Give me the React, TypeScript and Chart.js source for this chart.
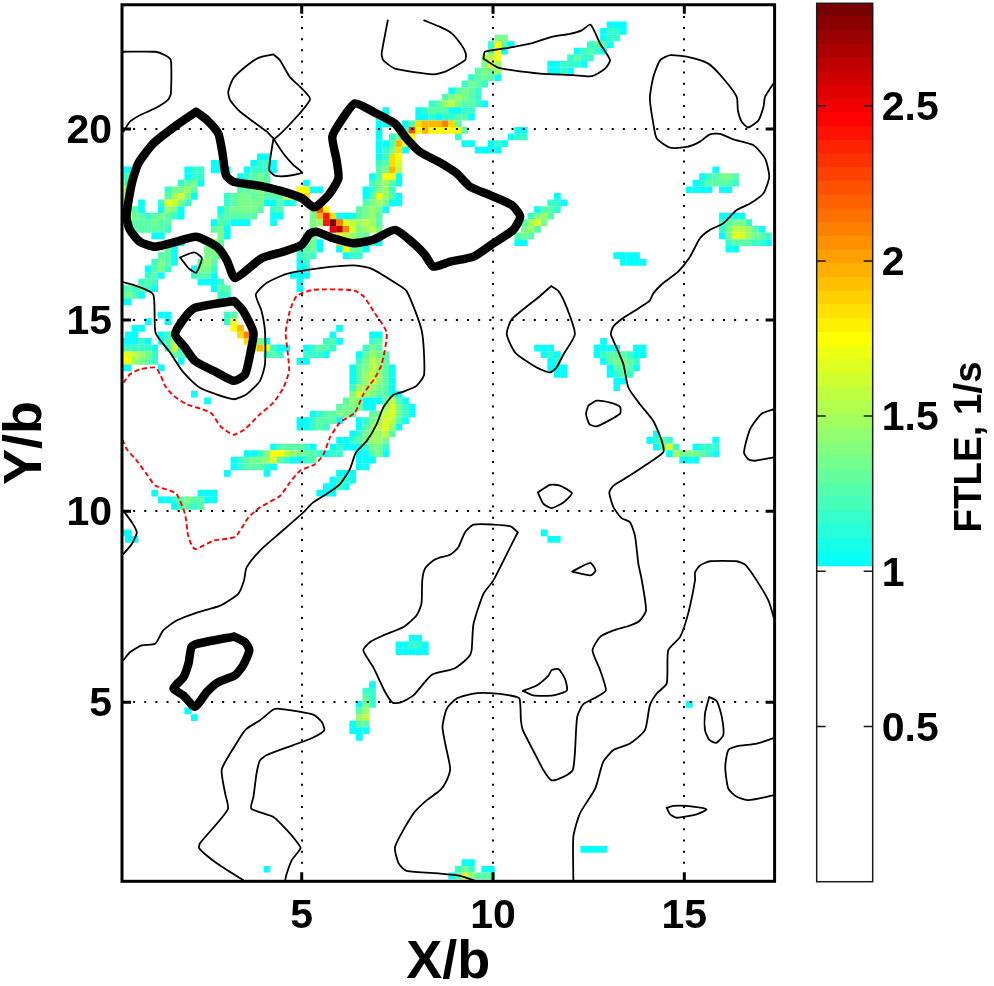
import React, { useEffect, useRef } from "react";
import { Chart, registerables } from "chart.js";

Chart.register(...registerables);

const FONT = "'Liberation Sans', Arial, sans-serif";
const xTicks = [5, 10, 15];
const yTicks = [5, 10, 15, 20];
const barTicks = [0.5, 1, 1.5, 2, 2.5];
const xRange = [0.303, 17.36];
const yRange = [0.317, 23.25];
const barRange = [0, 2.83];

// FTLE grid: column i -> x, row k -> y
const gridX0 = 0.468;
const gridDX = 0.1725;
const gridY0 = 22.725;
const gridDY = 0.1726;
const levelCodes = "abcdefghijklmnop";
const levelValues = [1.03, 1.17, 1.27, 1.36, 1.46, 1.56, 1.65, 1.75, 1.85, 1.95, 2.1, 2.25, 2.4, 2.5, 2.65, 2.8];

// [row k, first column i, level codes]
const ftleRuns: [number, number, string][] = [
  [0, 73, "aaa"], [1, 72, "abba"], [2, 56, "dd"], [2, 72, "abb"],
  [3, 55, "bhca"], [3, 70, "bcca"], [4, 55, "cha"], [4, 68, "abcba"],
  [5, 54, "efh"], [5, 67, "bcbb"], [6, 54, "dhe"], [6, 64, "aabbba"],
  [7, 53, "cdde"], [7, 64, "aaba"], [8, 52, "bcdca"], [9, 51, "bdcb"],
  [10, 49, "acdcb"], [11, 48, "cdedcb"], [12, 46, "bce"], [12, 48, "efdccba"],
  [13, 39, "a"], [13, 44, "abccc"], [13, 48, "caabb"], [14, 38, "aa"], [14, 44, "aababa"], [14, 49, "bcca"],
  [15, 38, "aaa"], [15, 42, "acijjjkic"], [16, 38, "a"], [16, 42, "blhjhhhhhc"], [16, 59, "aa"],
  [17, 38, "a"], [17, 40, "bdgh"], [17, 50, "b"], [17, 58, "abb"],
  [18, 38, "aacjha"], [18, 51, "aa"], [18, 55, "aba"],
  [19, 38, "abdia"], [19, 53, "aaaa"],
  [20, 38, "abih"], [21, 38, "bcig"], [22, 38, "cdjf"], [23, 37, "achha"], [24, 37, "bdeca"],
  [25, 36, "abdeb"], [26, 36, "acheca"], [27, 36, "cdeda"], [27, 40, "aa"],
  [28, 29, "lh"], [28, 35, "cdeda"], [29, 28, "djmi"], [29, 32, "aaacdec"],
  [30, 28, "demjkgfefec"], [30, 31, "pk"], [31, 28, "d"], [31, 31, "nokgdefd"], [32, 32, "gfedc"],
  [33, 32, "ihedcca"], [34, 32, "ahdca"], [35, 33, "abb"],
  // centre-left patch and streak
  [20, 20, "aa"], [21, 13, "aa"], [21, 19, "abba"], [22, 13, "aaa"], [22, 18, "abbba"],
  [23, 17, "abcdc"], [24, 17, "bccdc"], [24, 27, "a"], [25, 17, "ccdddcc"], [25, 26, "hhaa"],
  [26, 15, "bcddcdcc"], [26, 23, "chhei"], [27, 15, "bcdddd"], [27, 21, "aacab"],
  [28, 14, "acdddd"], [28, 20, "c"], [28, 22, "bc"], [28, 28, "d"],
  [29, 14, "bcccc"], [29, 19, "c"], [29, 22, "aa"], [30, 13, "acbaaa"], [30, 22, "a"],
  [31, 13, "cda"], [32, 14, "da"], [33, 13, "ec"], [34, 12, "ddb"], [35, 12, "ddc"],
  [36, 11, "cec"], [37, 10, "addb"], [38, 10, "bcca"], [39, 11, "aaab"], [40, 13, "acc"], [41, 14, "bb"],
  [32, 27, "cd"], [33, 27, "cda"], [34, 26, "acda"], [35, 26, "bcb"], [36, 26, "ab"], [37, 26, "aa"],
  [38, 25, "aaa"], [39, 26, "a"], [40, 26, "a"],
  // upper-left patch
  [22, 9, "abb"], [22, -1, "aa"], [23, 9, "abb"], [23, -1, "bb"], [24, 8, "bcda"], [24, -1, "ea"],
  [25, 6, "bddec"], [25, -1, "fc"], [26, 6, "cegda"], [26, -1, "fc"], [27, 5, "bggdb"], [27, -1, "fd"], [27, 2, "a"],
  [28, 5, "aeda"], [28, -1, "fdca"], [29, 3, "bcdcba"], [29, 0, "gdc"], [30, 1, "cccdcc"], [31, 1, "cccccb"], [32, 4, "aa"],
  [33, 7, "aa"], [34, 6, "ca"], [35, 5, "cca"], [36, 4, "bdca"], [37, 3, "acdb"], [38, 3, "bca"],
  [39, 2, "bcb"], [40, -1, "bcbcba"], [41, -1, "cdca"], [42, -1, "aa"],
  // around the ring
  [44, 5, "aa"], [45, 3, "a"], [45, 6, "a"], [46, 1, "aa"], [47, 0, "aa"], [47, 5, "abc"],
  [48, -1, "aaaba"], [48, 5, "ace"], [49, -1, "bbbbba"], [49, 6, "bgb"], [50, -1, "hgfedb"], [50, 7, "cca"],
  [51, -1, "hhedcb"], [51, 8, "a"], [52, -1, "aa"], [52, 5, "a"], [56, 10, "a"], [57, 12, "a"],
  [44, 15, "bc"], [45, 15, "bh"], [46, 16, "hj"], [47, 17, "ik"], [48, 18, "i"], [48, 20, "da"],
  [49, 19, "gjhbaa"], [50, 21, "bcb"],
  // centre patches
  [46, 32, "a"], [47, 31, "a"], [47, 37, "aa"], [48, 30, "bca"], [48, 37, "bc"],
  [49, 27, "abccb"], [49, 36, "bdc"], [50, 27, "bbba"], [50, 35, "acedc"], [51, 26, "aa"], [51, 35, "bdfec"],
  [52, 34, "acdfeca"], [53, 34, "acefeca"], [54, 34, "acegeca"], [55, 34, "beeedca"], [56, 34, "dgedccaa"],
  [57, 33, "cedaaacfca"], [58, 32, "cdddaa"], [58, 39, "egdba"], [59, 28, "abccddc"], [59, 37, "cdfgdba"],
  [60, 26, "aabccca"], [60, 35, "abdegfca"], [61, 26, "aabcb"], [61, 35, "acefgea"], [62, 34, "abdeefc"],
  [63, 32, "aabcdeed"], [64, 22, "accccba"], [64, 31, "abaaabddb"], [65, 18, "aabdhhfedccbabb"], [65, 35, "aacda"],
  [66, 16, "abcddegcbaabc"], [66, 35, "aaa"], [67, 16, "abcccba"], [67, 35, "aa"],
  [68, 15, "a"], [68, 21, "a"], [68, 32, "aaa"], [69, 31, "abba"], [70, 30, "aaba"], [71, 29, "aaa"],
  [71, 4, "a"], [71, 11, "aaa"], [72, 5, "aabcdccaa"], [73, 7, "accbc"], [77, -1, "aa"], [78, 0, "aa"],
  // upper-right patches
  [22, 89, "a"], [23, 87, "abcddc"], [24, 86, "abccccb"], [25, 85, "aaaa"], [25, 90, "aa"],
  [26, 65, "a"], [27, 64, "bba"], [28, 62, "accb"], [29, 61, "bdec"], [30, 60, "cegd"], [31, 60, "dec"],
  [32, 59, "cdc"], [33, 59, "aa"], [35, 74, "aaaa"], [36, 75, "aaaa"],
  [29, 90, "aaaa"], [30, 90, "bcddb"], [31, 90, "bdffeca"], [32, 90, "adggedcb"], [33, 91, "bcccbba"], [34, 91, "aa"],
  // mid-right patches
  [48, 72, "a"], [49, 62, "aaa"], [49, 71, "aaaa"], [49, 77, "aa"], [50, 63, "aba"], [50, 71, "abcccbaa"],
  [51, 64, "ab"], [51, 72, "acddcb"], [52, 64, "aaa"], [52, 73, "accca"], [53, 65, "aa"], [53, 73, "abcb"],
  [54, 74, "aa"], [55, 74, "a"],
  [62, 80, "a"], [63, 79, "abcb"], [63, 89, "a"], [64, 80, "acgb"], [64, 86, "abbb"], [65, 82, "aedddcba"],
  [66, 84, "aaa"], [77, 63, "a"], [78, 64, "aa"],
  // lower patches
  [93, 43, "aa"], [94, 41, "aabba"], [95, 41, "aaaaa"], [104, 9, "a"], [105, 10, "a"],
  [100, 37, "a"], [101, 36, "bb"], [102, 36, "cb"], [103, 35, "adb"], [104, 35, "ce"], [105, 35, "ef"],
  [106, 34, "acc"], [107, 34, "aaa"], [108, 35, "a"], [103, 85, "a"], [125, 69, "aaaa"], [128, 21, "a"],
  [127, 51, "aa"], [128, 50, "bdb"], [128, 54, "aa"], [129, 49, "acgecc"], [129, 55, "c"],
];

const thickContourA = [
  [2.24, 20.45], [2.53, 20.23], [2.82, 19.88], [2.93, 19.36], [3.02, 18.79], [3.21, 18.62], [3.91, 18.51], [4.52, 18.36], [5.0, 18.19], [5.33, 17.95],
  [5.7, 18.27], [5.96, 18.71], [5.91, 19.19], [5.8, 19.8], [6.04, 20.23], [6.39, 20.67], [6.87, 20.45], [7.44, 20.14], [7.74, 19.75], [8.09, 19.4],
  [8.62, 19.12], [9.05, 18.84], [9.4, 18.49], [9.92, 18.27], [10.49, 18.01], [10.71, 17.71], [10.53, 17.36], [10.01, 17.01], [9.49, 16.66], [8.88, 16.53],
  [8.44, 16.4], [8.22, 16.71], [7.92, 17.01], [7.44, 17.36], [6.87, 17.1], [6.35, 17.01], [5.83, 17.14], [5.39, 17.31], [5.22, 17.27], [5.0, 16.97],
  [4.52, 16.79], [3.95, 16.62], [3.26, 16.1], [3.04, 16.57], [2.78, 16.92], [2.24, 17.18], [1.73, 17.05], [1.17, 16.92], [0.77, 17.05], [0.51, 17.36],
  [0.42, 17.71], [0.56, 18.58], [0.73, 19.1], [1.12, 19.62], [1.73, 20.1], [2.24, 20.45],
];
const thickContourB = [
  [3.23, 15.5], [3.47, 15.24], [3.74, 14.67], [3.65, 14.1], [3.52, 13.58], [3.23, 13.41], [2.78, 13.63], [2.21, 13.93], [1.95, 14.28], [1.69, 14.63], [1.91, 15.02], [2.21, 15.32], [3.23, 15.5],
];
const thickContourC = [
  [3.23, 6.72], [3.52, 6.57], [3.63, 6.36], [3.47, 5.97], [3.26, 5.71], [2.82, 5.53], [2.52, 5.27], [2.21, 4.88], [1.91, 5.18], [1.65, 5.36], [1.91, 5.66], [2.04, 6.01], [2.12, 6.45], [2.26, 6.53], [3.23, 6.72],
];
const redContour = [
  [0.34, 13.36], [0.51, 13.58], [0.77, 13.71], [1.17, 13.76], [1.3, 13.58], [1.43, 13.28], [1.65, 13.02], [1.99, 12.8], [2.39, 12.67], [2.65, 12.55],
  [2.87, 12.23], [3.21, 12.0], [3.52, 12.15], [3.91, 12.54], [4.26, 12.84], [4.52, 13.23], [4.67, 13.67], [4.63, 14.19], [4.58, 14.67], [4.69, 15.24],
  [4.87, 15.63], [5.3, 15.79], [6.35, 15.78], [6.61, 15.63], [6.87, 15.24], [7.22, 14.67], [7.09, 13.84], [6.92, 13.5], [6.61, 13.06], [6.39, 12.58],
  [6.0, 12.32], [5.74, 11.93], [5.57, 11.49], [5.35, 11.23], [4.96, 11.06], [4.69, 10.75], [4.43, 10.4], [3.91, 10.1], [3.61, 9.84], [3.26, 9.33],
  [2.69, 9.23], [2.21, 9.01], [2.04, 9.32], [1.95, 9.93], [1.73, 10.45], [1.56, 10.54], [1.17, 10.67], [0.95, 10.97], [0.69, 11.32], [0.43, 11.62], [0.32, 11.86],
];
const thinContours: number[][][] = [
  [[0.34, 22.02], [1.17, 22.02], [1.43, 21.93], [1.58, 21.8], [1.58, 20.93], [1.51, 20.77], [1.17, 20.54], [0.77, 20.36], [0.51, 20.19], [0.34, 19.93]],
  [[4.26, 21.95], [4.43, 21.8], [4.69, 21.36], [4.96, 21.1], [5.22, 20.77], [4.3, 19.75], [4.09, 19.93], [3.39, 20.45], [3.13, 20.75], [3.08, 20.97], [3.21, 21.32], [3.52, 21.62], [3.87, 21.86], [4.26, 21.95]],
  [[4.26, 19.75], [4.15, 18.93], [4.3, 18.78], [4.61, 18.77], [5.0, 18.86], [4.78, 19.06], [4.52, 19.36], [4.26, 19.75]],
  [[7.25, 22.84], [7.09, 21.97], [7.13, 21.8], [7.44, 21.58], [8.44, 21.43], [8.75, 21.5], [9.27, 21.8], [9.29, 21.97], [9.18, 22.19], [8.92, 22.5], [8.62, 22.67], [8.2, 22.84]],
  [[9.75, 21.84], [9.79, 22.02], [10.44, 22.13], [10.97, 22.23], [11.53, 22.41], [12.01, 22.49], [12.32, 22.58], [12.55, 22.73], [12.8, 22.23], [13.06, 21.8], [12.93, 21.58], [12.58, 21.38], [12.1, 21.41], [11.23, 21.45], [10.49, 21.54], [10.1, 21.62], [9.75, 21.84]],
  [[17.33, 21.19], [17.11, 20.84], [17.07, 20.58], [16.94, 20.23], [16.67, 20.04], [16.5, 20.19], [16.4, 20.49], [16.37, 20.84], [16.02, 21.32], [15.63, 21.71], [15.06, 21.89], [14.63, 21.93], [14.37, 21.8], [14.19, 21.36], [14.1, 20.8], [14.19, 20.14], [14.28, 19.75], [14.63, 19.51], [15.06, 19.53], [15.41, 19.67], [15.67, 19.86], [15.93, 19.87], [16.28, 19.73], [16.8, 19.58], [17.11, 19.23], [17.22, 18.75], [17.07, 18.32], [16.72, 18.05], [16.37, 17.88], [16.02, 17.53], [15.67, 17.36], [15.41, 17.14], [15.15, 16.66], [14.84, 16.27], [14.45, 15.97], [14.19, 15.7], [14.09, 15.5], [13.76, 15.28], [13.41, 15.06], [13.15, 14.84], [13.08, 14.63], [13.23, 14.28], [13.41, 13.84], [13.54, 13.23], [13.84, 12.8], [14.19, 12.36], [14.41, 11.84], [14.45, 11.54], [14.02, 11.23], [13.49, 10.88], [13.15, 10.67], [13.04, 10.49], [13.15, 10.1], [13.36, 9.82], [13.58, 9.71], [13.71, 9.36], [13.8, 8.62], [13.89, 8.19], [14.0, 7.4], [13.84, 7.14], [13.58, 7.01], [13.15, 6.88], [12.8, 6.71], [12.6, 6.36], [12.8, 5.84], [12.95, 5.31], [12.71, 5.14], [12.36, 4.95], [12.2, 4.62], [12.14, 3.66], [12.08, 3.22], [11.84, 3.05], [11.53, 2.96], [11.32, 3.22], [11.05, 3.74], [10.78, 4.27], [10.73, 4.53], [10.69, 5.1], [10.44, 5.18], [9.92, 5.24], [9.49, 5.23], [9.05, 5.1], [8.79, 4.83], [8.68, 4.35], [8.77, 3.83], [8.88, 3.27], [8.79, 2.96], [8.62, 2.7], [8.27, 2.44], [7.92, 2.09], [7.44, 1.22], [7.53, 0.79], [7.74, 0.59], [8.62, 0.52], [9.14, 0.46], [9.57, 0.32]],
  [[11.52, 15.89], [11.71, 15.76], [11.93, 15.32], [12.14, 14.63], [11.84, 14.1], [11.66, 13.76], [11.49, 13.63], [11.14, 13.76], [10.58, 14.15], [10.36, 14.63], [10.49, 15.02], [11.23, 15.63], [11.52, 15.89]],
  [[1.82, 16.64], [2.19, 16.77], [2.39, 16.62], [2.24, 16.24], [2.04, 16.36], [1.82, 16.64]],
  [[0.34, 15.99], [0.69, 15.89], [1.12, 15.67], [1.18, 14.67], [1.56, 14.15], [1.91, 13.63], [2.34, 13.23], [3.21, 12.93], [3.56, 13.06], [3.91, 13.41], [4.04, 13.84], [4.04, 14.71], [3.95, 15.24], [3.8, 15.67], [4.08, 15.97], [4.61, 16.21], [5.48, 16.36], [6.35, 16.43], [6.79, 16.36], [7.39, 16.01], [7.74, 15.76], [8.14, 14.71], [8.2, 13.58], [8.0, 13.28], [7.66, 13.13], [7.39, 13.04], [7.13, 12.71], [6.96, 12.28], [6.7, 11.84], [6.42, 11.54], [6.26, 11.1], [6.0, 10.71], [5.65, 10.45], [5.3, 10.23], [5.0, 9.93], [4.35, 9.36], [3.91, 8.97], [3.56, 8.53], [3.49, 8.18], [3.34, 7.84], [2.87, 7.53], [2.3, 7.36], [1.73, 7.14], [1.38, 6.88], [1.17, 6.53], [0.82, 6.49], [0.51, 6.31], [0.34, 6.1]],
  [[0.34, 10.01], [0.56, 9.71], [0.69, 9.45], [0.56, 9.14], [0.34, 8.88]],
  [[10.65, 9.45], [10.46, 9.6], [10.01, 9.65], [9.49, 9.65], [9.27, 9.45], [9.09, 9.05], [8.88, 8.86], [8.62, 8.79], [8.44, 8.71], [8.22, 8.49], [8.15, 8.18], [8.13, 7.58], [8.0, 7.27], [7.66, 6.97], [7.13, 6.75], [6.79, 6.58], [6.61, 6.36], [6.87, 5.92], [7.18, 5.27], [7.38, 4.99], [7.57, 4.99], [7.92, 5.18], [8.4, 5.72], [8.88, 5.85], [9.05, 5.92], [9.36, 6.18], [9.44, 6.36], [9.49, 7.05], [9.75, 7.84], [10.01, 8.19], [10.49, 9.14], [10.65, 9.45]],
  [[12.49, 12.76], [12.71, 12.89], [13.06, 12.84], [13.32, 12.73], [13.32, 12.55], [12.71, 12.22], [12.52, 12.28], [12.43, 12.55], [12.49, 12.76]],
  [[11.17, 10.49], [11.49, 10.69], [11.75, 10.67], [12.06, 10.47], [11.84, 10.23], [11.53, 10.08], [11.32, 10.19], [11.17, 10.49]],
  [[12.07, 8.42], [12.54, 8.65], [12.68, 8.45], [12.55, 8.32], [12.07, 8.42]],
  [[10.78, 5.3], [11.14, 5.44], [11.45, 5.7], [11.53, 5.84], [11.71, 5.87], [11.88, 5.62], [11.93, 5.31], [11.58, 5.18], [11.05, 5.18], [10.78, 5.3]],
  [[17.35, 7.18], [17.2, 7.66], [16.89, 8.19], [16.59, 8.6], [16.37, 8.69], [15.67, 8.69], [15.41, 8.58], [15.28, 8.4], [15.28, 8.19], [15.1, 7.32], [14.89, 6.71], [14.58, 6.36], [14.54, 5.49], [14.28, 5.23], [14.1, 4.92], [13.97, 4.27], [13.58, 3.92], [13.15, 3.75], [12.88, 3.44], [12.67, 2.74], [12.27, 2.09], [12.1, 1.48], [12.1, 0.35]],
  [[17.35, 12.67], [17.02, 12.55], [16.72, 12.15], [16.56, 11.54], [16.67, 11.36], [16.85, 11.32], [17.35, 11.41]],
  [[15.65, 5.14], [15.85, 5.03], [15.98, 4.62], [16.02, 4.14], [15.83, 3.94], [15.65, 4.02], [15.54, 4.27], [15.54, 4.7], [15.65, 5.14]],
  [[17.35, 4.07], [16.89, 3.92], [16.37, 3.85], [16.15, 3.75], [16.07, 3.31], [16.15, 2.74], [16.37, 2.53], [16.67, 2.44], [17.35, 2.57]],
  [[14.54, 2.24], [14.71, 2.29], [15.06, 2.29], [15.58, 2.2], [15.32, 2.07], [14.8, 1.98], [14.63, 2.07], [14.54, 2.24]],
  [[3.47, 0.35], [2.78, 0.79], [2.32, 1.18], [2.34, 1.31], [3.07, 2.2], [3.0, 2.61], [2.91, 3.24], [3.26, 3.87], [3.54, 4.29], [3.91, 4.53], [4.26, 4.81], [4.43, 4.83], [5.3, 4.68], [5.52, 4.49], [5.59, 4.27], [5.3, 4.08], [4.78, 3.88], [4.09, 3.62], [3.91, 3.48], [3.82, 3.14], [3.74, 2.53], [3.68, 2.22], [4.26, 2.0], [4.61, 1.66], [4.87, 1.35], [4.97, 1.18], [4.74, 0.87], [4.61, 0.52], [4.56, 0.31]],
];

// Lower edge of each coloured band of the colour bar
const barBands = [
  1.017, 1.061, 1.105, 1.15, 1.194, 1.238, 1.282, 1.326, 1.371, 1.415, 1.459, 1.503, 1.547, 1.592, 1.636, 1.68, 1.724, 1.768, 1.813, 1.857, 1.901,
  1.945, 1.989, 2.034, 2.078, 2.122, 2.166, 2.21, 2.255, 2.299, 2.343, 2.387, 2.431, 2.476, 2.52, 2.564, 2.608, 2.652, 2.697, 2.741, 2.785, 2.83,
];
const colorStops = [
  [1.02, 0, 255, 255], [1.385, 128, 255, 128], [1.75, 255, 255, 0], [2.1, 255, 128, 0], [2.46, 255, 0, 0], [2.83, 112, 0, 0],
];

function colorOf(v: number): string {
  for (let s = 1; s < colorStops.length; s++) {
    if (v <= colorStops[s][0]) {
      const a = colorStops[s - 1];
      const b = colorStops[s];
      const t = Math.max(0, (v - a[0]) / (b[0] - a[0]));
      const m = (n: number) => Math.round(a[n] + (b[n] - a[n]) * t);
      return `rgb(${m(1)},${m(2)},${m(3)})`;
    }
  }
  return "rgb(112,0,0)";
}

const toXY = (pts: number[][]) => pts.map(([x, y]) => ({ x, y }));

function buildCells() {
  const pts: { x: number; y: number }[] = [];
  const colors: string[] = [];
  ftleRuns.forEach(([k, i0, codes]) => {
    [...codes].forEach((c, n) => {
      const idx = levelCodes.indexOf(c);
      if (idx < 0) return;
      pts.push({ x: gridX0 + gridDX * (i0 + n), y: gridY0 - gridDY * k });
      colors.push(colorOf(levelValues[idx]));
    });
  });
  return { pts, colors };
}

const framePlugin = {
  id: "frame",
  afterDraw(chart: any) {
    const { ctx, chartArea: a, scales } = chart;
    const o = chart.options.plugins.frame;
    ctx.save();
    ctx.strokeStyle = o.color;
    ctx.lineCap = "butt";
    ctx.lineWidth = o.tickWidth;
    ctx.beginPath();
    (o.xTicks || []).forEach((v: number) => {
      const p = scales.x.getPixelForValue(v);
      ctx.moveTo(p, a.top); ctx.lineTo(p, a.top + o.tickLen);
      ctx.moveTo(p, a.bottom); ctx.lineTo(p, a.bottom - o.tickLen);
    });
    (o.yTicks || []).forEach((v: number) => {
      const p = scales.y.getPixelForValue(v);
      ctx.moveTo(a.left, p); ctx.lineTo(a.left + o.tickLen, p);
      ctx.moveTo(a.right, p); ctx.lineTo(a.right - o.tickLen, p);
    });
    ctx.stroke();
    ctx.lineWidth = o.width;
    ctx.strokeRect(a.left, a.top, a.right - a.left, a.bottom - a.top);
    if (o.sideTitle) {
      ctx.translate(o.sideTitle.x, o.sideTitle.y);
      ctx.rotate(-Math.PI / 2);
      ctx.fillStyle = "#000";
      ctx.font = o.sideTitle.font;
      ctx.textAlign = "center";
      ctx.textBaseline = "middle";
      ctx.fillText(o.sideTitle.text, 0, 0);
    }
    ctx.restore();
  },
};

const tickFont = { family: FONT, size: 41, weight: "bold" as const };
const noPad = (s: any) => {
  s.paddingTop = 0;
  s.paddingBottom = 0;
  s.paddingLeft = 0;
  s.paddingRight = 0;
};

export default function App() {
  const mainRef = useRef<HTMLCanvasElement>(null);
  const barRef = useRef<HTMLCanvasElement>(null);

  useEffect(() => {
    const { pts, colors } = buildCells();
    const line = (pts: number[][], color: string, width: number, dash: number[] = []) => ({
      type: "scatter" as const,
      data: toXY(pts),
      showLine: true,
      borderColor: color,
      borderWidth: width,
      borderDash: dash,
      pointRadius: 0,
      tension: 0.2,
      borderJoinStyle: "round" as const,
      borderCapStyle: dash.length ? ("butt" as const) : ("round" as const),
      order: 1,
    });
    const main = new Chart(mainRef.current!, {
      type: "scatter",
      data: {
        datasets: [
          ...thinContours.map((c) => line(c, "#000", 1.8)),
          line(redContour, "#ff0000", 1.9, [5, 3]),
          line(thickContourA, "#000", 8.5),
          line(thickContourB, "#000", 8.5),
          line(thickContourC, "#000", 8.5),
          {
            data: pts,
            showLine: false,
            pointStyle: "rect",
            pointRadius: 4.75,
            pointBorderWidth: 0,
            pointBackgroundColor: colors,
            order: 10,
          },
        ] as any,
      },
      options: {
        responsive: false,
        animation: false,
        events: [],
        layout: { padding: { left: 0, right: 5.4, top: 3.2, bottom: 0 } },
        plugins: {
          legend: { display: false },
          tooltip: { enabled: false },
          frame: { color: "#000", width: 3, tickWidth: 3, tickLen: 9, xTicks, yTicks },
        } as any,
        scales: {
          x: {
            type: "linear",
            min: xRange[0],
            max: xRange[1],
            afterBuildTicks: (s: any) => { s.ticks = xTicks.map((value) => ({ value })); },
            afterFit: (s: any) => { s.height = 986 - 881.3; noPad(s); },
            ticks: { font: tickFont, color: "#000", padding: 11, maxRotation: 0, callback: (v: any) => String(v) },
            grid: { color: "#000", lineWidth: 2, drawTicks: false, z: 1 },
            border: { display: false, dash: [2, 9.13] },
            title: { display: true, text: "X/b", color: "#000", font: { family: FONT, size: 54, weight: "bold", lineHeight: 0.83 }, padding: 0 },
          },
          y: {
            type: "linear",
            min: yRange[0],
            max: yRange[1],
            afterBuildTicks: (s: any) => { s.ticks = yTicks.map((value) => ({ value })); },
            afterFit: (s: any) => { s.width = 122; noPad(s); },
            ticks: { font: tickFont, color: "#000", padding: 10, labelOffset: 2.5, callback: (v: any) => String(v) },
            grid: { color: "#000", lineWidth: 2, drawTicks: false, z: 1 },
            border: { display: false, dash: [2, 9.13] },
            title: { display: true, text: "Y/b", color: "#000", font: { family: FONT, size: 54, weight: "bold", lineHeight: 0.83 }, padding: { top: 4, bottom: 0 } },
          },
        },
      } as any,
      plugins: [framePlugin],
    });

    const bar = new Chart(barRef.current!, {
      type: "bar",
      data: {
        labels: ["FTLE"],
        datasets: barBands.slice(0, -1).map((lo, n) => ({
          data: [[lo, barBands[n + 1] + (n < barBands.length - 2 ? 0.002 : 0)]],
          backgroundColor: colorOf((lo + barBands[n + 1]) / 2),
          borderWidth: 0,
          barPercentage: 1,
          categoryPercentage: 1,
          grouped: false,
        })) as any,
      },
      options: {
        responsive: false,
        animation: false,
        events: [],
        layout: { padding: { left: 36.7, right: 0, top: 3.3, bottom: 986 - 881.7 } },
        plugins: {
          legend: { display: false },
          tooltip: { enabled: false },
          frame: {
            color: "#1a1a1a", width: 1.5, tickWidth: 1.5, tickLen: 9, yTicks: barTicks,
            sideTitle: { text: "FTLE, 1/s", x: 190, y: 447, font: `bold 38.5px ${FONT}` },
          },
        } as any,
        scales: {
          x: { type: "category", display: false },
          y: {
            type: "linear",
            position: "right",
            min: barRange[0],
            max: barRange[1],
            afterBuildTicks: (s: any) => { s.ticks = barTicks.map((value) => ({ value })); },
            afterFit: (s: any) => { s.width = 214 - 92.7; noPad(s); },
            ticks: { font: tickFont, color: "#000", padding: 9, labelOffset: 3, callback: (v: any) => String(v) },
            grid: { display: false, drawTicks: false },
            border: { display: false },
          },
        },
      } as any,
      plugins: [framePlugin],
    });

    return () => {
      main.destroy();
      bar.destroy();
    };
  }, []);

  return (
    <div>
      <canvas ref={mainRef} width={780} height={986} style={{ position: "absolute", left: 0, top: 0 }} />
      <canvas ref={barRef} width={214} height={986} style={{ position: "absolute", left: 780, top: 0 }} />
    </div>
  );
}
